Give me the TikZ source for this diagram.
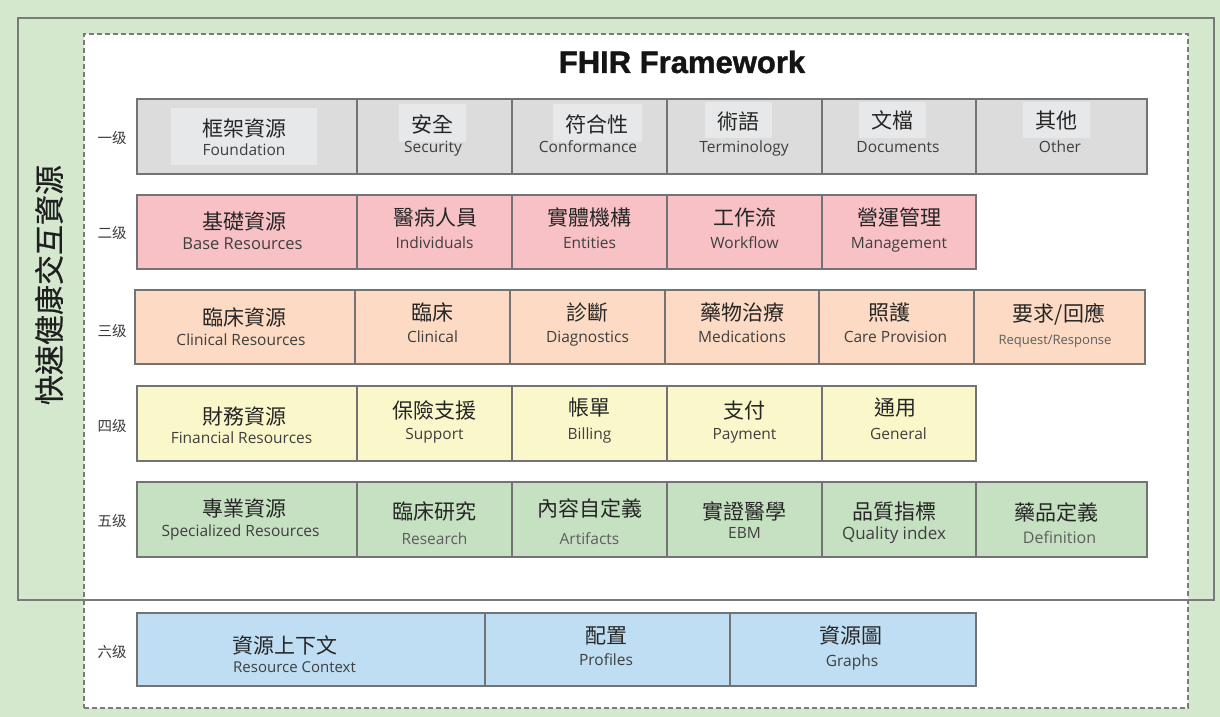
\documentclass[tikz,border=0pt]{standalone}
\usepackage{fontspec}
\setmainfont{Open Sans}
\newfontfamily\cjk{Noto Sans CJK TC}
\newfontfamily\cjkheavy{Noto Sans CJK TC}[FakeBold=0.6]
\newfontfamily\ttlfont{Liberation Sans}[BoldFeatures={FakeBold=1.2}]
\definecolor{bgG}{HTML}{D4E8CE}
\definecolor{bordc}{HTML}{737373}
\definecolor{frmc}{HTML}{7A7A7A}
\definecolor{gA}{HTML}{DCDCDC}
\definecolor{hlc}{HTML}{E7E8E9}
\definecolor{pB}{HTML}{F8C1C5}
\definecolor{oC}{HTML}{FCDAC3}
\definecolor{yD}{HTML}{FAF8CA}
\definecolor{gE}{HTML}{C6E1C2}
\definecolor{bF}{HTML}{BFDDF3}
\definecolor{zhc}{HTML}{262626}
\definecolor{enc}{HTML}{3F3F3F}
\definecolor{enl}{HTML}{5E5E5E}
\definecolor{lvc}{HTML}{3A3A3A}
\tikzset{
  cellbox/.style={draw=bordc, line width=1.3pt, inner sep=0pt, outer sep=0pt},
  hlbox/.style={fill=hlc, draw=none, inner sep=0pt, outer sep=0pt},
  zh/.style={anchor=base, inner sep=0pt, text=zhc, font=\cjk\fontsize{21}{24}\selectfont},
  en/.style={anchor=base, inner sep=0pt, text=enc, font=\fontsize{15.5}{18}\selectfont},
  enlight/.style={en, text=enl},
  lvl/.style={anchor=center, inner sep=0pt, text=lvc, font=\cjk\fontsize{14.5}{16}\selectfont},
  dashbox/.style={draw=frmc, fill=white, line width=1.3pt, dash pattern=on 5pt off 3pt, inner sep=0pt, outer sep=0pt},
  outerbox/.style={draw=frmc, line width=1.5pt, inner sep=0pt, outer sep=0pt},
  ttl/.style={anchor=base, inner sep=0pt, text=black!92, font=\ttlfont\bfseries\fontsize{31}{34}\selectfont},
  vtitle/.style={rotate=90, anchor=center, inner sep=0pt, text=black!88, font=\cjkheavy\fontsize{30}{32}\selectfont}
}
\newcommand\mkcell[6]{\node[cellbox, fill=#6, minimum width={#3-#2}, minimum height={#5-#4}] (#1) at ({(#2+#3)/2},{(#4+#5)/2}) {};}
\newcommand\mkhl[5]{\node[hlbox, minimum width={#3-#2}, minimum height={#5-#4}] (#1) at ({(#2+#3)/2},{(#4+#5)/2}) {};}
\begin{document}
\begin{tikzpicture}[x=1pt,y=-1pt]
\useasboundingbox (0,0) rectangle (1220,717);
\fill[bgG] (0,0) rectangle (1220,717);
% frames
\node[dashbox, minimum width=1104, minimum height=674] (inner) at (636,371) {};
\node[outerbox, minimum width=1196, minimum height=582] (outer) at (616,309) {};
% titles
\node[ttl] (title) at (682,73) {FHIR Framework};
\node[vtitle] (vt) at (49,285) {快速健康交互資源};
% level labels
\node[lvl] (l1) at (112,138) {一级};
\node[lvl] (l2) at (112,233) {二级};
\node[lvl] (l3) at (112,331) {三级};
\node[lvl] (l4) at (112,426) {四级};
\node[lvl] (l5) at (112,521) {五级};
\node[lvl] (l6) at (112,652) {六级};
% row 1
\mkcell{c11}{137}{357}{99}{174}{gA}
\mkcell{c12}{357}{512}{99}{174}{gA}
\mkcell{c13}{512}{667}{99}{174}{gA}
\mkcell{c14}{667}{822}{99}{174}{gA}
\mkcell{c15}{822}{976}{99}{174}{gA}
\mkcell{c16}{976}{1147}{99}{174}{gA}
\mkhl{h11}{171}{317}{108}{165}
\mkhl{h12}{399}{466}{104}{142}
\mkhl{h13}{553}{642}{104}{142}
\mkhl{h14}{705}{772}{102}{138}
\mkhl{h15}{859}{926}{102}{138}
\mkhl{h16}{1023}{1090}{102}{138}
\node[zh] (t11z) at (244,136) {框架資源};
\node[en] (t11e) at (244,155.5) {Foundation};
\node[zh] (t12z) at (432.5,132) {安全};
\node[en] (t12e) at (433,152.5) {Security};
\node[zh] (t13z) at (597,132) {符合性};
\node[en] (t13e) at (588,152.5) {Conformance};
\node[zh] (t14z) at (738.5,129) {術語};
\node[en] (t14e) at (744,152.5) {Terminology};
\node[zh] (t15z) at (892,128.5) {文檔};
\node[en] (t15e) at (898,152.5) {Documents};
\node[zh] (t16z) at (1056.5,128.5) {其他};
\node[en] (t16e) at (1060,152.5) {Other};
% row 2
\mkcell{c21}{137}{357}{195}{269}{pB}
\mkcell{c22}{357}{512}{195}{269}{pB}
\mkcell{c23}{512}{667}{195}{269}{pB}
\mkcell{c24}{667}{822}{195}{269}{pB}
\mkcell{c25}{822}{976}{195}{269}{pB}
\node[zh] (t21z) at (244.5,229.5) {基礎資源};
\node[en, font=\fontsize{16.5}{19}\selectfont] (t21e) at (242.5,249) {Base Resources};
\node[zh] (t22z) at (435,225) {醫病人員};
\node[en] (t22e) at (434.5,248) {Individuals};
\node[zh] (t23z) at (589.5,225) {實體機構};
\node[en] (t23e) at (589.5,248) {Entities};
\node[zh] (t24z) at (744.5,225) {工作流};
\node[en] (t24e) at (744.5,248) {Workflow};
\node[zh] (t25z) at (899,225) {營運管理};
\node[en] (t25e) at (899,248) {Management};
% row 3
\mkcell{c31}{135}{355}{290}{364}{oC}
\mkcell{c32}{355}{510}{290}{364}{oC}
\mkcell{c33}{510}{665}{290}{364}{oC}
\mkcell{c34}{665}{819}{290}{364}{oC}
\mkcell{c35}{819}{974}{290}{364}{oC}
\mkcell{c36}{974}{1145}{290}{364}{oC}
\node[zh] (t31z) at (244.5,325) {臨床資源};
\node[en] (t31e) at (241,345.5) {Clinical Resources};
\node[zh] (t32z) at (432.5,320) {臨床};
\node[en] (t32e) at (432.5,342.5) {Clinical};
\node[zh] (t33z) at (587.5,320) {診斷};
\node[en] (t33e) at (587.5,342.5) {Diagnostics};
\node[zh] (t34z) at (742,320) {藥物治療};
\node[en] (t34e) at (742,342.5) {Medications};
\node[zh] (t35z) at (889,320) {照護};
\node[en] (t35e) at (895.5,342.5) {Care Provision};
\node[zh] (t36z) at (1059,321) {要求/回應};
\node[enlight, font=\fontsize{13}{16}\selectfont] (t36e) at (1055,344.5) {Request/Response};
% row 4
\mkcell{c41}{137}{357}{386}{461}{yD}
\mkcell{c42}{357}{512}{386}{461}{yD}
\mkcell{c43}{512}{667}{386}{461}{yD}
\mkcell{c44}{667}{822}{386}{461}{yD}
\mkcell{c45}{822}{976}{386}{461}{yD}
\node[zh] (t41z) at (244,424) {財務資源};
\node[en] (t41e) at (241.5,443.5) {Financial Resources};
\node[zh] (t42z) at (434.5,418) {保險支援};
\node[en] (t42e) at (434.5,439.5) {Support};
\node[zh] (t43z) at (589.5,415) {帳單};
\node[en] (t43e) at (589.5,439.5) {Billing};
\node[zh] (t44z) at (744.5,418) {支付};
\node[en] (t44e) at (744.5,439.5) {Payment};
\node[zh] (t45z) at (895,415) {通用};
\node[en] (t45e) at (898.5,439.5) {General};
% row 5
\mkcell{c51}{137}{357}{482}{557}{gE}
\mkcell{c52}{357}{512}{482}{557}{gE}
\mkcell{c53}{512}{667}{482}{557}{gE}
\mkcell{c54}{667}{822}{482}{557}{gE}
\mkcell{c55}{822}{976}{482}{557}{gE}
\mkcell{c56}{976}{1147}{482}{557}{gE}
\node[zh] (t51z) at (244,516) {專業資源};
\node[en] (t51e) at (240.5,536.5) {Specialized Resources};
\node[zh] (t52z) at (434.5,519) {臨床研究};
\node[enlight] (t52e) at (434.5,544.5) {Research};
\node[zh] (t53z) at (589.5,516) {內容自定義};
\node[enlight] (t53e) at (589.5,544.5) {Artifacts};
\node[zh] (t54z) at (744.5,519) {實證醫學};
\node[en] (t54e) at (744.5,538.5) {EBM};
\node[zh] (t55z) at (894,519) {品質指標};
\node[en, font=\fontsize{17}{20}\selectfont] (t55e) at (894,539) {Quality index};
\node[zh] (t56z) at (1056.5,520) {藥品定義};
\node[enlight, font=\fontsize{16}{19}\selectfont] (t56e) at (1059.5,543.5) {Definition};
% row 6
\mkcell{c61}{137}{485}{613}{686}{bF}
\mkcell{c62}{485}{730}{613}{686}{bF}
\mkcell{c63}{730}{976}{613}{686}{bF}
\node[zh, anchor=base west] (t61z) at (232,653) {資源上下文};
\node[en, anchor=base west, font=\fontsize{15}{18}\selectfont] (t61e) at (233,672.5) {Resource Context};
\node[zh] (t62z) at (606,643) {配置};
\node[en] (t62e) at (606,665.5) {Profiles};
\node[zh] (t63z) at (851,643) {資源圖};
\node[en] (t63e) at (852,666.5) {Graphs};
\end{tikzpicture}
\end{document}
